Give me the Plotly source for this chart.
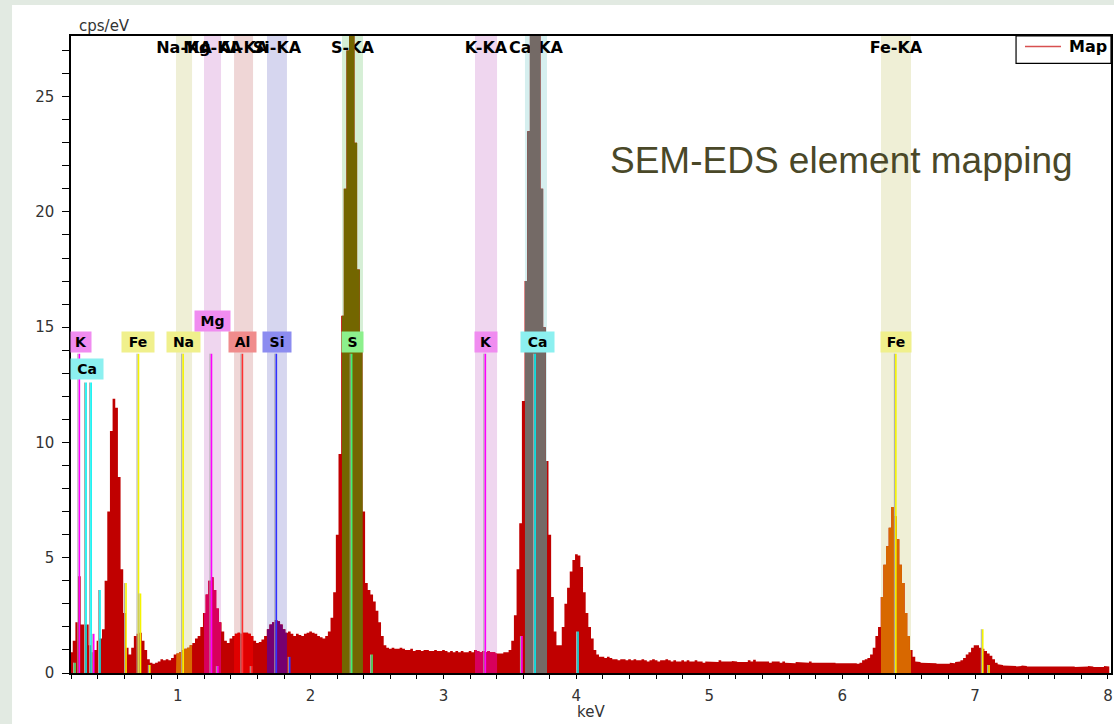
import numpy as np
import plotly.graph_objects as go

# ---------------- data ----------------
BIN_WIDTH = 0.02  # keV
seg_start = [0.20, 1.00, 2.00, 3.00, 4.00, 5.00, 6.00, 7.00]

counts_0 = [0.9, 1.4, 2.2, 4.2, 2.1, 2.1, 2.1, 1.2, 0.9, 1.0,
            1.4, 1.5, 1.9, 4.0, 7.0, 10.5, 11.9, 11.5, 8.5, 4.5,
            2.6, 1.1, 0.8, 1.1, 1.6, 1.7, 1.75, 1.4, 1.0, 0.6,
            0.45, 0.4, 0.45, 0.5, 0.6, 0.55, 0.6, 0.55, 0.65, 0.8]
counts_1 = [0.85, 0.9, 1.0, 1.05, 1.1, 1.2, 1.3, 1.5, 1.6, 2.0,
            2.6, 3.4, 4.0, 4.15, 3.6, 2.8, 2.2, 1.8, 1.4, 1.3,
            1.5, 1.6, 1.7, 1.75, 1.7, 1.75, 1.75, 1.7, 1.6, 1.4,
            1.3, 1.35, 1.45, 1.6, 1.9, 2.1, 2.2, 2.3, 2.25, 2.1,
            1.9, 1.75, 1.8, 1.7, 1.6, 1.7, 1.65, 1.6, 1.7, 1.75]
counts_2 = [1.8, 1.75, 1.7, 1.6, 1.55, 1.5, 1.6, 1.8, 2.4, 3.5,
            6.0, 9.5, 15.5, 21.0, 27.0, 32.0, 30.0, 23.0, 17.5, 14.0,
            7.0, 3.9, 3.6, 3.4, 3.1, 2.7, 2.2, 1.6, 1.2, 1.1,
            1.05, 1.1, 1.05, 1.05, 1.1, 1.05, 1.0, 1.0, 1.05, 0.95,
            1.0, 1.0, 0.95, 1.0, 1.0, 0.95, 0.95, 1.0, 0.95, 0.95]
counts_3 = [1.0, 0.95, 0.9, 0.95, 0.9, 0.95, 0.9, 0.95, 0.9, 0.9,
            0.95, 0.9, 1.0, 0.95, 0.9, 0.95, 0.9, 0.95, 0.9, 0.9,
            0.85, 0.85, 0.85, 0.9, 0.9, 1.0, 1.4, 2.5, 4.5, 6.5,
            11.8, 17.0, 23.5, 30.0, 34.0, 34.0, 28.0, 21.0, 15.0, 9.2,
            6.0, 3.3, 1.8, 1.2, 1.2, 2.0, 3.0, 3.7, 4.4, 4.9]
counts_4 = [5.15, 5.1, 4.6, 3.5, 2.6, 2.0, 1.5, 1.0, 0.8, 0.7,
            0.7, 0.65, 0.7, 0.65, 0.6, 0.6, 0.55, 0.6, 0.6, 0.55,
            0.6, 0.55, 0.6, 0.55, 0.55, 0.6, 0.55, 0.5, 0.55, 0.6,
            0.55, 0.5, 0.55, 0.55, 0.6, 0.55, 0.5, 0.55, 0.5, 0.5,
            0.55, 0.5, 0.55, 0.5, 0.5, 0.55, 0.5, 0.5, 0.45, 0.5]
counts_5 = [0.5, 0.5, 0.5, 0.48, 0.55, 0.5, 0.5, 0.48, 0.5, 0.52,
            0.5, 0.48, 0.5, 0.5, 0.48, 0.55, 0.5, 0.58, 0.5, 0.48,
            0.5, 0.48, 0.5, 0.45, 0.5, 0.48, 0.5, 0.45, 0.5, 0.45,
            0.42, 0.45, 0.42, 0.48, 0.45, 0.45, 0.48, 0.45, 0.5, 0.45,
            0.48, 0.45, 0.45, 0.48, 0.45, 0.45, 0.48, 0.45, 0.42, 0.45]
counts_6 = [0.45, 0.42, 0.45, 0.42, 0.45, 0.42, 0.4, 0.45, 0.55, 0.6,
            0.65, 0.8, 1.1, 1.6, 2.0, 3.3, 4.7, 5.5, 6.3, 7.2,
            6.8, 5.8, 4.7, 3.9, 2.6, 1.6, 1.0, 0.7, 0.5, 0.48,
            0.45, 0.45, 0.42, 0.45, 0.42, 0.42, 0.4, 0.42, 0.4, 0.42,
            0.4, 0.45, 0.42, 0.48, 0.5, 0.55, 0.65, 0.8, 0.9, 1.1]
counts_7 = [1.2, 1.2, 1.1, 1.05, 0.95, 0.85, 0.75, 0.6, 0.45, 0.38,
            0.35, 0.32, 0.3, 0.32, 0.3, 0.3, 0.28, 0.3, 0.32, 0.3,
            0.28, 0.3, 0.3, 0.28, 0.3, 0.3, 0.28, 0.3, 0.3, 0.28,
            0.3, 0.28, 0.28, 0.3, 0.28, 0.28, 0.3, 0.28, 0.26, 0.28,
            0.28, 0.26, 0.28, 0.3, 0.28, 0.26, 0.28, 0.28, 0.26, 0.3,
            0.28]
count_segments = [counts_0, counts_1, counts_2, counts_3, counts_4, counts_5, counts_6, counts_7]

# element windows (keV)
band_names = ["Na-KA", "Mg-KA", "Al-KA", "Si-KA", "S-KA", "K-KA", "Ca-KA", "Fe-KA"]
band_lo = [0.987, 1.198, 1.424, 1.672, 2.236, 3.237, 3.613, 6.292]
band_hi = [1.108, 1.326, 1.567, 1.822, 2.394, 3.403, 3.779, 6.518]

# element marker lines (keV, height in cps/eV)
line_energy = [0.260, 0.310, 0.348, 0.705, 1.041, 1.254, 1.487, 1.742, 2.309, 3.315, 3.689, 6.404,
               0.227, 0.368, 0.415, 0.611, 0.720, 0.790, 1.302, 1.557, 1.843, 2.462, 3.590, 4.012, 7.058, 7.105]
line_height = [13.85, 12.6, 12.6, 13.85, 13.85, 13.85, 13.85, 13.85, 13.85, 13.85, 13.85, 13.85,
               0.45, 1.7, 3.6, 3.9, 3.45, 0.35, 0.3, 0.3, 0.7, 0.8, 1.6, 1.8, 1.9, 0.35]
line_element = ["K", "Ca", "Ca", "Fe", "Na", "Mg", "Al", "Si", "S", "K", "Ca", "Fe",
                "S", "K", "Ca", "Fe", "Fe", "Fe", "Mg", "Al", "Si", "S", "K", "Ca", "Fe", "Fe"]

# element label boxes
label_text = ["K", "Ca", "Fe", "Na", "Mg", "Al", "Si", "S", "K", "Ca", "Fe"]
label_energy = [0.273, 0.318, 0.703, 1.044, 1.258, 1.490, 1.747, 2.318, 3.320, 3.706, 6.405]

# ---------------- styles ----------------
RED = "#c00000"
band_light = ["#efefd6", "#efd6ef", "#efd6d6", "#d6d6ef", "#d6efd6", "#efd6ef", "#d6efef", "#efefd6"]
band_fill = ["#d86800", "#d8005c", "#e00000", "#760070", "#736600", "#d8005c", "#746a66", "#d86800"]
element_line_color = {"K": "#ff00ff", "Ca": "#00f0f0", "Fe": "#f4f400", "Na": "#f4f400",
                      "Mg": "#ff00ff", "Al": "#ff3030", "Si": "#3030ff", "S": "#40f070"}
element_box_color = {"K": "#f08cf0", "Ca": "#8cf0f0", "Fe": "#f0f08c", "Na": "#f0f08c",
                     "Mg": "#f08cf0", "Al": "#f08c8c", "Si": "#8c8cf0", "S": "#8cf08c"}
label_row = [14.36, 13.17, 14.36, 14.36, 15.27, 14.36, 14.36, 14.36, 14.36, 14.36, 14.36]
label_width = [20, 32, 32, 33, 35, 27, 28, 21, 22, 33, 30]

# ---------------- build ----------------
energy = np.concatenate([s + BIN_WIDTH * np.arange(len(c)) for s, c in zip(seg_start, count_segments)])
counts = np.concatenate([np.array(c, dtype=float) for c in count_segments])


def step_polygon(lo, hi):
    xs, ys = [lo], [0.0]
    half = BIN_WIDTH / 2
    for e, c in zip(energy, counts):
        left, right = e - half, e + half
        if right <= lo or left >= hi:
            continue
        xs += [max(left, lo), min(right, hi)]
        ys += [c, c]
    xs.append(hi)
    ys.append(0.0)
    return xs, ys


fig = go.Figure()

# window names (drawn underneath the spectrum)
band_center = [(a + b) / 2 for a, b in zip(band_lo, band_hi)]
fig.add_trace(go.Scatter(
    x=band_center, y=[27.07] * len(band_center), mode="text", text=band_names,
    textfont=dict(family="DejaVu Sans", size=16, color="black", weight="bold"),
    hoverinfo="skip", showlegend=False, cliponaxis=False))

# full spectrum
sx, sy = step_polygon(energy[0] - BIN_WIDTH / 2, energy[-1] + BIN_WIDTH / 2)
fig.add_trace(go.Scatter(x=sx, y=sy, mode="lines", fill="toself", fillcolor=RED,
                         line=dict(width=0, color=RED), name="Map", showlegend=False,
                         hoverinfo="skip"))
# coloured parts inside element windows
for lo, hi, col in zip(band_lo, band_hi, band_fill):
    bx, by = step_polygon(lo, hi)
    fig.add_trace(go.Scatter(x=bx, y=by, mode="lines", fill="toself", fillcolor=col,
                             line=dict(width=0, color=col), showlegend=False, hoverinfo="skip"))

shapes = []
# white panel over light green page
shapes.append(dict(type="rect", xref="paper", yref="paper", x0=-0.0567, x1=1.01, y0=-0.1, y1=1.0487,
                   fillcolor="white", line=dict(width=0), layer="below"))
# element windows
for lo, hi, col in zip(band_lo, band_hi, band_light):
    shapes.append(dict(type="rect", xref="x", yref="paper", x0=lo, x1=hi, y0=0, y1=1,
                       fillcolor=col, line=dict(width=0), layer="below"))
# marker lines with grey shadow
for e, h, el in zip(line_energy, line_height, line_element):
    shapes.append(dict(type="line", xref="x", yref="y", x0=e - 0.011, x1=e - 0.011, y0=0, y1=h,
                       line=dict(color="#a8a8a8", width=1)))
    shapes.append(dict(type="line", xref="x", yref="y", x0=e, x1=e, y0=0, y1=h,
                       line=dict(color=element_line_color[el], width=1.6)))
# legend box
shapes.append(dict(type="rect", xref="paper", yref="paper", x0=0.9087, x1=1.0, y0=0.9571, y1=1.0,
                   fillcolor="white", line=dict(color="black", width=1.2)))
shapes.append(dict(type="line", xref="paper", yref="paper", x0=0.9173, x1=0.9519, y0=0.9835, y1=0.9835,
                   line=dict(color="#d85050", width=1.5)))

annotations = []
for t, e, r, w in zip(label_text, label_energy, label_row, label_width):
    annotations.append(dict(x=e, y=r, xref="x", yref="y", text=t, showarrow=False,
                            bgcolor=element_box_color[t], width=w, height=20, borderpad=0,
                            font=dict(family="DejaVu Sans", size=14, color="black", weight="bold"),
                            xanchor="center", yanchor="middle"))
annotations.append(dict(x=0.9577, y=0.9835, xref="paper", yref="paper", text="Map", showarrow=False,
                        xanchor="left", yanchor="middle",
                        font=dict(family="DejaVu Sans", size=16, color="black", weight="bold")))
annotations.append(dict(x=0.5163, y=0.8038, xref="paper", yref="paper", text="SEM-EDS element mapping",
                        showarrow=False, xanchor="left", yanchor="middle",
                        font=dict(family="Liberation Sans", size=37, color="#4a4828")))
annotations.append(dict(x=0.0058, y=1.0157, xref="paper", yref="paper", text="cps/eV", showarrow=False,
                        xanchor="left", yanchor="middle",
                        font=dict(family="DejaVu Sans", size=15, color="#333333")))
annotations.append(dict(x=0.5, y=-0.0612, xref="paper", yref="paper", text="keV", showarrow=False,
                        xanchor="center", yanchor="middle",
                        font=dict(family="DejaVu Sans", size=15, color="#333333")))

fig.update_layout(
    width=1114, height=724,
    margin=dict(l=71, r=3, t=36, b=51, autoexpand=False),
    paper_bgcolor="#e2eae2", plot_bgcolor="white",
    shapes=shapes, annotations=annotations, showlegend=False,
    xaxis=dict(range=[0.197, 8.023], tickvals=[1, 2, 3, 4, 5, 6, 7, 8], ticks="outside", ticklen=4,
               tickcolor="black", tickwidth=1.2, showline=True, linecolor="black", linewidth=1.5,
               mirror=True, showgrid=False, zeroline=False, ticklabelstandoff=4,
               tickfont=dict(family="DejaVu Sans", size=15, color="#333333"),
               minor=dict(dtick=0.2, tick0=0, ticks="outside", ticklen=4, tickcolor="black", tickwidth=1.2)),
    yaxis=dict(range=[0, 27.63], tickvals=[0, 5, 10, 15, 20, 25], ticks="outside", ticklen=7,
               tickcolor="black", tickwidth=1.2, showline=True, linecolor="black", linewidth=1.5,
               mirror=True, showgrid=False, zeroline=False, ticklabelstandoff=5,
               tickfont=dict(family="DejaVu Sans", size=15, color="#333333"),
               minor=dict(dtick=1, tick0=0, ticks="outside", ticklen=7, tickcolor="black", tickwidth=1.2)),
)

fig.write_html("out.html", config={"displayModeBar": False},
               post_script="document.body.style.margin='0';document.body.style.padding='0';"
                           "document.body.style.overflow='hidden';")
